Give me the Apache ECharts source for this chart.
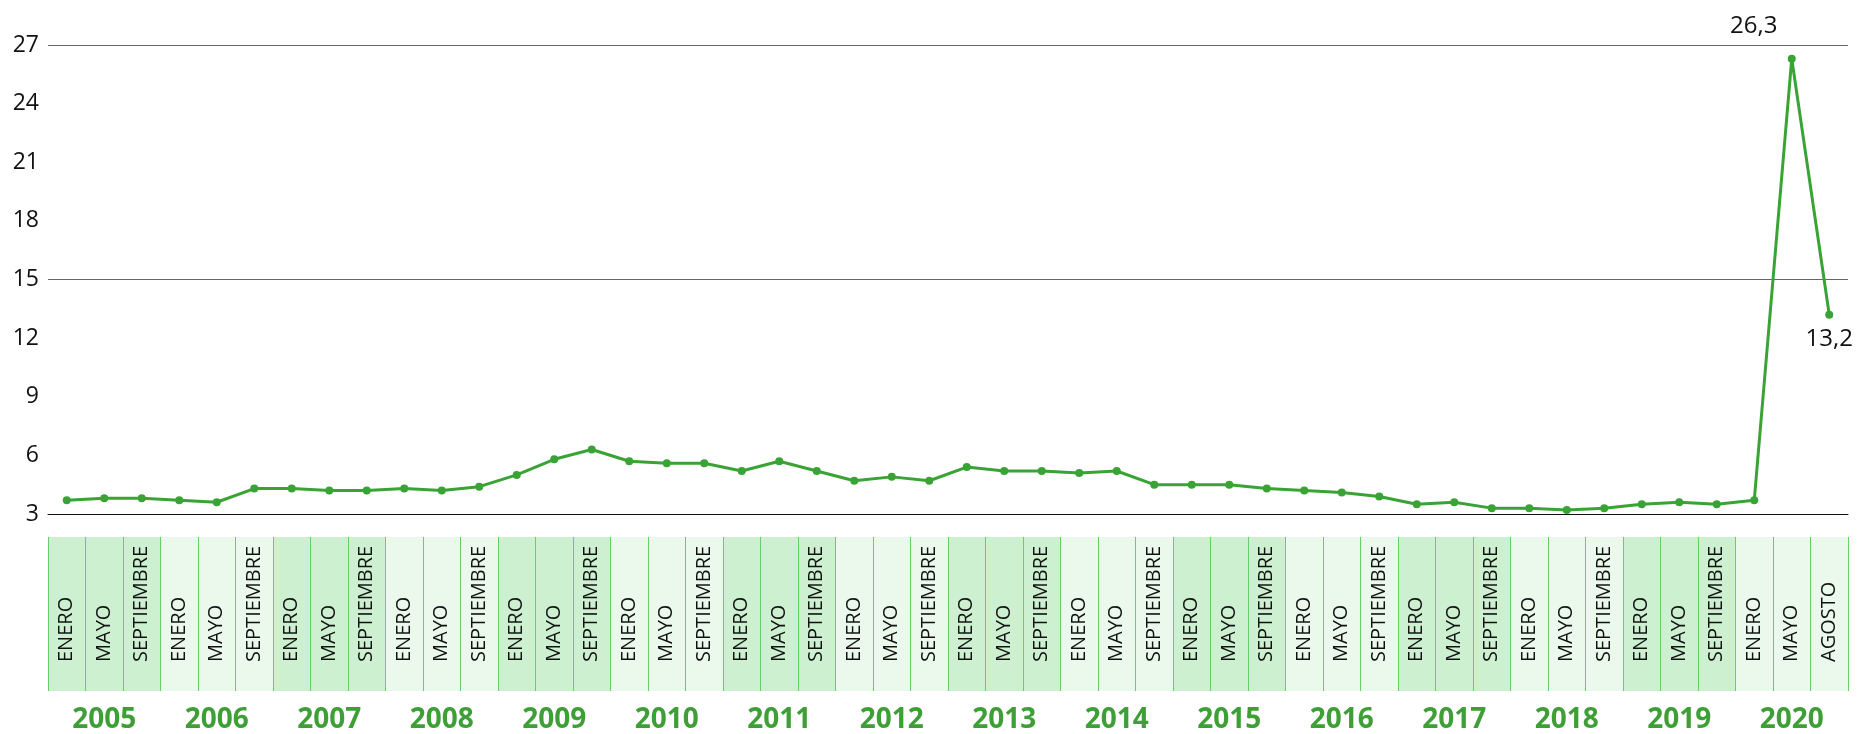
<!DOCTYPE html>
<html>
<head>
<meta charset="utf-8">
<script src="https://cdn.jsdelivr.net/npm/echarts@6/dist/echarts.min.js"></script>
<style>
html,body{margin:0;padding:0;background:#ffffff;}
#chart{width:1871px;height:734px;}
</style>
</head>
<body>
<div id="chart"></div>
<script>
// ---- data ----
const years = ['2005','2006','2007','2008','2009','2010','2011','2012','2013','2014','2015','2016','2017','2018','2019','2020'];
const monthsRegular = ['ENERO','MAYO','SEPTIEMBRE'];
const months2020 = ['ENERO','MAYO','AGOSTO'];
const categories = years.flatMap(y => (y === '2020' ? months2020 : monthsRegular));
const values = [
  3.7, 3.8, 3.8,   3.7, 3.6, 4.3,   4.3, 4.2, 4.2,   4.3, 4.2, 4.4,
  5.0, 5.8, 6.3,   5.7, 5.6, 5.6,   5.2, 5.7, 5.2,   4.7, 4.9, 4.7,
  5.4, 5.2, 5.2,   5.1, 5.2, 4.5,   4.5, 4.5, 4.3,   4.2, 4.1, 3.9,
  3.5, 3.6, 3.3,   3.3, 3.2, 3.3,   3.5, 3.6, 3.5,   3.7, 26.3, 13.2
];
const labeledPoints = [46, 47];

// ---- styling ----
const GREEN = '#3aa335';
const YEAR_GREEN = '#3d9f35';
const FONT = '"Open Sans", "Noto Sans", sans-serif';
const labelStyle = {
  46: { position: 'top', offset: [-38, -12] },
  47: { position: 'bottom', distance: 8 }
};

const seriesData = values.map((v, i) => {
  if (labeledPoints.includes(i)) {
    return {
      value: v,
      label: Object.assign({
        show: true,
        fontFamily: FONT,
        fontSize: 24,
        color: '#111',
        formatter: p => String(p.value).replace('.', ',')
      }, labelStyle[i])
    };
  }
  return v;
});

const chart = echarts.init(document.getElementById('chart'), null, { renderer: 'canvas' });
chart.setOption({
  animation: false,
  backgroundColor: '#ffffff',
  grid: [
    { left: 48, right: 23, top: 45, height: 469 },
    { left: 48, right: 23, top: 537, height: 155 }
  ],
  xAxis: [
    {
      gridIndex: 0, type: 'category', data: categories, boundaryGap: true,
      axisLine: { show: true, onZero: false, lineStyle: { color: '#111', width: 1 } },
      axisTick: { show: false }, axisLabel: { show: false }, splitLine: { show: false }
    },
    {
      gridIndex: 1, type: 'category', data: years, boundaryGap: true, position: 'bottom', z: 1,
      axisLine: { show: false }, axisTick: { show: false },
      axisLabel: { show: true, interval: 0, margin: 15, fontFamily: FONT, fontWeight: 'bold', fontSize: 28, color: YEAR_GREEN },
      splitLine: { show: false },
      splitArea: { show: true, interval: 0, areaStyle: { color: ['#cdf0d1', '#eaf9ec'] } }
    },
    {
      gridIndex: 1, type: 'category', data: categories, boundaryGap: true, position: 'bottom', z: 3,
      axisLine: { show: false }, axisTick: { show: false },
      axisLabel: { show: true, inside: true, rotate: 90, interval: 0, margin: 29,
        fontFamily: FONT, fontSize: 20, color: '#111' },
      splitLine: { show: true, interval: 0, lineStyle: { color: '#66d066', width: 1 } }
    }
  ],
  yAxis: [
    {
      gridIndex: 0, type: 'value', min: 3, max: 27, interval: 3,
      axisLine: { show: false }, axisTick: { show: false }, splitLine: { show: false },
      axisLabel: { show: true, margin: 9, fontFamily: FONT, fontSize: 23, color: '#111', padding: [0, 0, 9, 0] }
    },
    {
      gridIndex: 0, type: 'value', min: 3, max: 27, interval: 12,
      axisLine: { show: false }, axisTick: { show: false }, axisLabel: { show: false },
      splitLine: { show: true, lineStyle: { color: '#666', width: 1 } }
    },
    {
      gridIndex: 1, type: 'value', min: 0, max: 1, show: false
    }
  ],
  series: [
    {
      type: 'line', xAxisIndex: 0, yAxisIndex: 0, data: seriesData,
      color: GREEN,
      lineStyle: { color: GREEN, width: 3 },
      itemStyle: { color: GREEN },
      symbol: 'circle', symbolSize: 8,
      z: 5
    }
  ]
});
</script>
</body>
</html>
